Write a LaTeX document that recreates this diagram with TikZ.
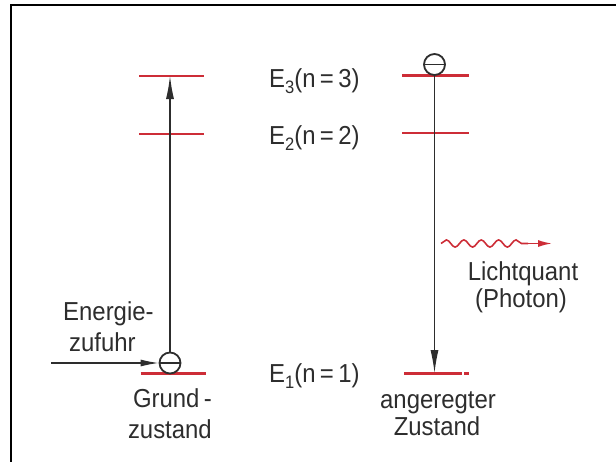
\documentclass[tikz,border=0pt]{standalone}
\usepackage{fontspec}
\setmainfont{Liberation Sans}[FakeStretch=0.92]
\usetikzlibrary{arrows.meta,decorations.pathmorphing}
\definecolor{lvred}{RGB}{205,45,55}
\definecolor{txt}{RGB}{45,45,45}
\newcommand{\esub}[1]{\raisebox{-6pt}{\fontsize{18}{18}\selectfont #1}}
\tikzset{
  level/.style={draw=lvred, line width=2.8pt},
  electron/.style={circle, draw=txt, line width=1.8pt, minimum size=21pt, inner sep=0pt, fill=white},
  arr/.style={draw=txt, line width=1.2pt, -{Latex[length=23pt,width=8pt]}},
  arrs/.style={draw=txt, line width=1.2pt, -{Latex[length=18pt,width=7pt]}},
  lbl/.style={text=txt, font=\fontsize{26}{29}\selectfont, inner sep=0pt},
  photon/.style={draw=lvred, line width=1.6pt}
}
\begin{document}
\begin{tikzpicture}[x=1pt,y=-1pt]
\useasboundingbox (0,0) rectangle (616,461);
% frame
\draw[line width=2pt] (617,5.3) -- (11.3,5.3) -- (11.3,462);
% left levels
\coordinate (L3a) at (139,76); \coordinate (L3b) at (204,76);
\coordinate (L2a) at (139,134); \coordinate (L2b) at (204,134);
\coordinate (L1a) at (140.5,373.5); \coordinate (L1b) at (205.5,373.5);
\draw[level] (L3a) -- (L3b);
\draw[level] (L2a) -- (L2b);
\draw[level] (L1a) -- (L1b);
% right levels
\coordinate (R3a) at (402,75.5); \coordinate (R3b) at (469,75.5);
\coordinate (R2a) at (402,133); \coordinate (R2b) at (469,133);
\coordinate (R1a) at (404,373.5); \coordinate (R1b) at (461.5,373.5);
\coordinate (R1c) at (464,373.5); \coordinate (R1d) at (469,373.5);
\draw[level] (R3a) -- (R3b);
\draw[level] (R2a) -- (R2b);
\draw[level] (R1a) -- (R1b);
\draw[level] (R1c) -- (R1d);
% electrons
\node[electron] (eL) at (170,363) {};
\draw[draw=txt, line width=1.8pt] (eL.west) -- (eL.east);
\node[electron] (eR) at (434.5,64.5) {};
\draw[draw=txt, line width=1.8pt] (eR.west) -- (eR.east);
% transitions
\coordinate (upTip) at (170,76);
\draw[arr] (eL.north) -- (upTip);
\coordinate (downTip) at (434.5,373);
\draw[arr] (eR.south) -- (downTip);
\coordinate (src) at (51,363);
\draw[arrs] (src) -- (eL.west);
% photon
\coordinate (w0) at (441,243.5);
\coordinate (w1) at (528,243.5);
\coordinate (w2) at (552,243.5);
\draw[photon, decorate, decoration={snake, amplitude=3.6pt, segment length=17.4pt}] (w0) -- (w1);
\draw[photon, -{Latex[length=14pt,width=7pt]}] (w1) -- (w2);
% labels
\node[lbl, anchor=base west] (E3) at (269,87) {E\esub{3}(n\,=\,3)};
\node[lbl, anchor=base west] (E2) at (269,144) {E\esub{2}(n\,=\,2)};
\node[lbl, anchor=base west] (E1) at (269,382) {E\esub{1}(n\,=\,1)};
\node[lbl, anchor=base] (lq) at (523,280) {Lichtquant};
\node[lbl, anchor=base] (ph) at (521,307) {(Photon)};
\node[lbl, anchor=base west] (en) at (63,320) {Energie-};
\node[lbl, anchor=base west] (zu) at (69,351) {zufuhr};
\node[lbl, anchor=base east] (gr) at (212,407) {Grund\,-};
\node[lbl, anchor=base east] (zs) at (212,438) {zustand};
\node[lbl, anchor=base] (an) at (438,408) {angeregter};
\node[lbl, anchor=base] (zz) at (437,435) {Zustand};
\end{tikzpicture}
\end{document}
